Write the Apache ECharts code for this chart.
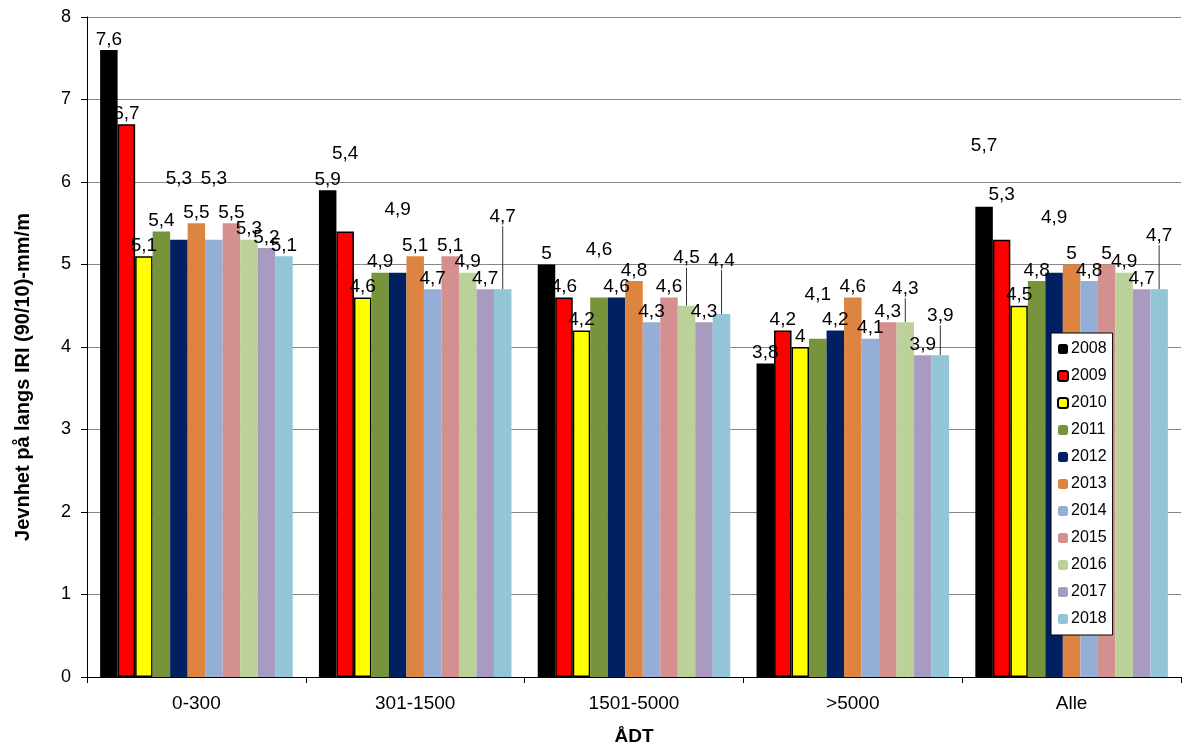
<!DOCTYPE html>
<html>
<head>
<meta charset="utf-8">
<script src="https://cdn.jsdelivr.net/npm/echarts@6/dist/echarts.min.js"></script>
<style>
  html, body { margin: 0; padding: 0; background: #fff; }
  #chart { width: 1182px; height: 744px; }
</style>
</head>
<body>
<div id="chart"></div>
<script>
// categories (ÅDT classes)
const categories = ['0-300', '301-1500', '1501-5000', '>5000', 'Alle']
const years = ['2008', '2009', '2010', '2011', '2012', '2013', '2014', '2015', '2016', '2017', '2018']

// one array per year, values per ÅDT class
const v2008 = [7.6, 5.9, 5.0, 3.8, 5.7]
const v2009 = [6.7, 5.4, 4.6, 4.2, 5.3]
const v2010 = [5.1, 4.6, 4.2, 4.0, 4.5]
const v2011 = [5.4, 4.9, 4.6, 4.1, 4.8]
const v2012 = [5.3, 4.9, 4.6, 4.2, 4.9]
const v2013 = [5.5, 5.1, 4.8, 4.6, 5.0]
const v2014 = [5.3, 4.7, 4.3, 4.1, 4.8]
const v2015 = [5.5, 5.1, 4.6, 4.3, 5.0]
const v2016 = [5.3, 4.9, 4.5, 4.3, 4.9]
const v2017 = [5.2, 4.7, 4.3, 3.9, 4.7]
const v2018 = [5.1, 4.7, 4.4, 3.9, 4.7]
const values = [v2008, v2009, v2010, v2011, v2012, v2013, v2014, v2015, v2016, v2017, v2018]

const colors = ['#000000', '#ff0000', '#ffff00', '#77933c', '#002060', '#dd8441',
  '#95aed5', '#d4908f', '#bcd09a', '#a99bc0', '#92c5d6']

// labels that were moved up in the original (series-category: px up, leader line?)
const nudges = {
  '4-0': [50], '6-0': [50],
  '1-1': [67], '4-1': [52], '10-1': [62, true],
  '3-2': [37], '8-2': [37, true], '10-2': [43, true],
  '3-3': [33], '8-3': [23, true], '10-3': [29, true],
  '0-4': [50], '1-4': [34], '4-4': [44], '10-4': [43, true],
}

const chart = echarts.init(document.getElementById('chart'))

const series = years.map((y, i) => ({
  name: y,
  type: 'bar',
  data: values[i].map((v, j) => {
    const n = nudges[i + '-' + j]
    return {
      value: v,
      labelLine: { show: !!(n && n[1]) },
    }
  }),
  barGap: '0%',
  barCategoryGap: '12%',
  itemStyle: {
    color: colors[i],
    borderColor: i === 1 || i === 2 ? '#000' : colors[i],
    borderWidth: i === 1 || i === 2 ? 1.5 : 0,
  },
  label: {
    show: true,
    position: 'top',
    distance: 1,
    color: '#000',
    fontFamily: 'Liberation Sans',
    fontSize: 19,
    formatter: (p) => String(p.value).replace('.', ','),
  },
  labelLine: {
    show: false,
    lineStyle: { color: '#333', width: 1 },
  },
  labelLayout: (p) => {
    const n = nudges[p.seriesIndex + '-' + p.dataIndex]
    if (!n) return { hideOverlap: false }
    return { dy: -n[0], hideOverlap: false }
  },
}))

chart.setOption({
  animation: false,
  textStyle: { fontFamily: 'Liberation Sans' },
  grid: { left: 87, right: 1, top: 17, bottom: 67, outerBoundsMode: 'none' },
  legend: {
    orient: 'vertical',
    left: 1051,
    top: 333,
    padding: [8, 6, 8, 6],
    backgroundColor: '#fff',
    borderColor: '#000',
    borderWidth: 1,
    borderRadius: 0,
    itemWidth: 10,
    itemHeight: 10,
    itemGap: 11,
    textStyle: { fontSize: 16, color: '#000', padding: [0, 0, 0, -2] },
    data: years,
  },
  xAxis: {
    type: 'category',
    data: categories,
    name: 'ÅDT',
    nameLocation: 'middle',
    nameGap: 50,
    nameTextStyle: { fontSize: 19, fontWeight: 'bold', color: '#000' },
    axisLine: { lineStyle: { color: '#000', width: 1 } },
    axisTick: { show: true, length: 6, lineStyle: { color: '#000' } },
    axisLabel: { fontSize: 19, color: '#000', margin: 17 },
  },
  yAxis: {
    type: 'value',
    min: 0,
    max: 8,
    interval: 1,
    name: 'Jevnhet på langs IRI (90/10)-mm/m',
    nameLocation: 'middle',
    nameGap: 54,
    nameTextStyle: { fontSize: 20, fontWeight: 'bold', color: '#000', padding: [0, 60, 0, 0] },
    axisLine: { show: true, lineStyle: { color: '#000', width: 1 } },
    axisTick: { show: true, length: 6, lineStyle: { color: '#000' } },
    axisLabel: { fontSize: 18, color: '#000', margin: 16 },
    splitLine: { lineStyle: { color: '#868686', width: 1 } },
  },
  series: series,
})
</script>
</body>
</html>
